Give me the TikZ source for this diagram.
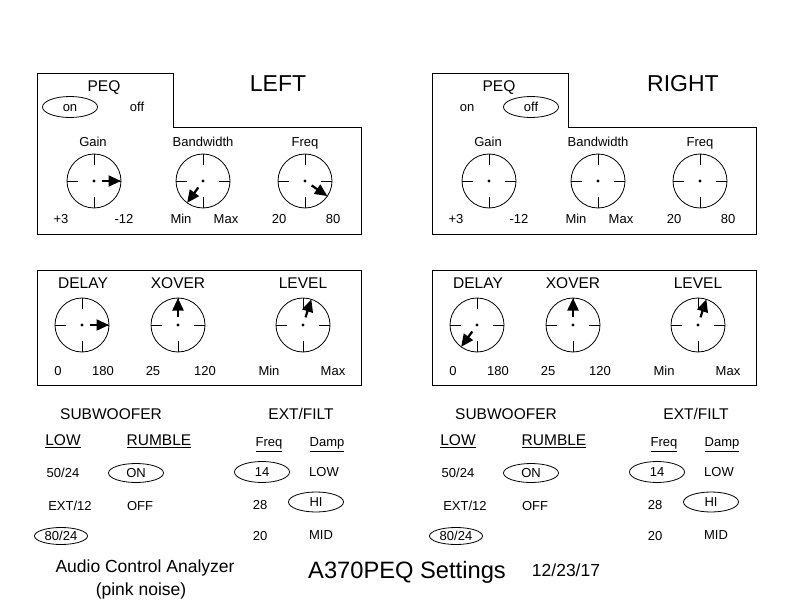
\documentclass[tikz,border=0pt]{standalone}
\usepackage{fontspec}
\setmainfont{Liberation Sans}
\usetikzlibrary{calc,arrows.meta,shapes.geometric}
\newcommand\knobat[3]{%
  \node[knob] (#1) at (#2,#3) {};
  \draw[tickline] (#1.north) -- ++(0,11);
  \draw[tickline] (#1.south) -- ++(0,-11);
  \draw[tickline] (#1.west) -- ++(11,0);
  \draw[tickline] (#1.east) -- ++(-11,0);
  \fill (#1.center) circle (1.6);
}
\newcommand\needle[2]{\draw[needleline] ($(#1.center)!8pt!(#1.#2)$) -- (#1.#2);}
\tikzset{
  txt/.style={inner sep=0pt, outer sep=0pt, text depth=0pt},
  sm/.style={txt, text height=9.3pt, font=\fontsize{13}{15}\selectfont},
  hd/.style={txt, text height=11.1pt, font=\fontsize{15.5}{18}\selectfont},
  big/.style={txt, text height=16.5pt, font=\fontsize{23}{26}\selectfont},
  foot/.style={txt, text height=12.5pt, font=\fontsize{17.5}{20}\selectfont},
  oval/.style={draw, ellipse, line width=0.8pt, minimum width=55pt, minimum height=20pt},
  knob/.style={draw, circle, line width=0.8pt, minimum size=54pt, inner sep=0pt, outer sep=0pt},
  tickline/.style={line width=0.8pt},
  needleline/.style={line width=2.2pt, -{Triangle[length=12.5pt,width=11pt]}},
  boxline/.style={line width=0.9pt}
}
\newcommand\panelbody[1]{%
  % top box
  \draw[boxline] (37,73) -- (173,73) -- (173,127) -- (361,127) -- (361,234) -- (37,234) -- cycle;
  \node[hd] (#1peq) at (104,86) {PEQ};
  \node[sm] (#1gainl) at (93,142) {Gain};
  \node[sm] (#1bwl) at (203,142) {Bandwidth};
  \node[sm] (#1freql) at (305,142) {Freq};
  \knobat{#1gain}{94}{181}
  \knobat{#1bw}{203}{181}
  \knobat{#1freq}{305}{181}
  \node[sm] (#1gmin) at (61,219) {+3};
  \node[sm] (#1gmax) at (124,219) {-12};
  \node[sm] (#1bmin) at (181,219) {Min};
  \node[sm] (#1bmax) at (226,219) {Max};
  \node[sm] (#1fmin) at (279,219) {20};
  \node[sm] (#1fmax) at (333,219) {80};
  % second box
  \draw[boxline] (37,270) rectangle (361,385);
  \node[hd] (#1delayl) at (83,283) {DELAY};
  \node[hd] (#1xoverl) at (178,283) {XOVER};
  \node[hd] (#1levell) at (303,283) {LEVEL};
  \knobat{#1delay}{82}{325}
  \knobat{#1xover}{178}{325}
  \knobat{#1level}{303}{325}
  \node[sm] (#1dmin) at (58,371) {0};
  \node[sm] (#1dmax) at (103,371) {180};
  \node[sm] (#1xmin) at (153,371) {25};
  \node[sm] (#1xmax) at (205,371) {120};
  \node[sm] (#1lmin) at (269,371) {Min};
  \node[sm] (#1lmax) at (333,371) {Max};
  % bottom settings
  \node[hd] (#1sub) at (111,414) {SUBWOOFER};
  \node[hd] (#1ext) at (301,414) {EXT/FILT};
  \node[hd] (#1low) at (63,440) {\underline{LOW}};
  \node[hd] (#1rumble) at (159,440) {\underline{RUMBLE}};
  \node[sm] (#1freqh) at (269,442) {\underline{Freq}};
  \node[sm] (#1damp) at (327,442) {\underline{Damp}};
  \node[sm] (#1l5024) at (63,473) {50/24};
  \node[sm, oval, minimum height=19pt] (#1on) at (136,473) {ON};
  \node[sm, oval, minimum height=21pt] (#1f14) at (262,472) {14};
  \node[sm] (#1dlow) at (324,472) {LOW};
  \node[sm] (#1ext12) at (70,506) {EXT/12};
  \node[sm] (#1off) at (140,506) {OFF};
  \node[sm] (#1f28) at (260,505) {28};
  \node[sm, oval] (#1hi) at (316,502) {HI};
  \node[sm, oval, minimum width=53pt, minimum height=17pt] (#1l8024) at (61,536) {80/24};
  \node[sm] (#1f20) at (260,536) {20};
  \node[sm] (#1mid) at (321,535) {MID};
}
\begin{document}
\begin{tikzpicture}[x=1pt, y=-1pt]
\fill[white] (0,0) rectangle (792,612);
\useasboundingbox (0,0) rectangle (792,612);
% LEFT
\panelbody{L}
\node[sm, oval, minimum height=21pt] (Lpeqon) at (70,107) {on};
\node[sm] (Lpeqoff) at (137,107) {off};
\node[big] (Ltitle) at (278,83) {LEFT};
\needle{Lgain}{0}
\needle{Lbw}{234}
\needle{Lfreq}{326}
\needle{Ldelay}{0}
\needle{Lxover}{90}
\needle{Llevel}{72}
% RIGHT
\begin{scope}[xshift=395]
\panelbody{R}
\node[sm] (Rpeqon) at (72,107) {on};
\node[sm, oval, minimum height=21pt] (Rpeqoff) at (136,107) {off};
\node[big] (Rtitle) at (288,83) {RIGHT};
\needle{Rdelay}{234}
\needle{Rxover}{90}
\needle{Rlevel}{72}
\end{scope}
% footer
\node[foot] (aca) at (145,566) {Audio Control Analyzer};
\node[foot] (pink) at (141,589) {(pink noise)};
\node[txt, text height=17pt, font=\fontsize{23.7}{27}\selectfont] (settings) at (407,570) {A370PEQ Settings};
\node[foot] (date) at (566,570) {12/23/17};
\end{tikzpicture}
\end{document}
